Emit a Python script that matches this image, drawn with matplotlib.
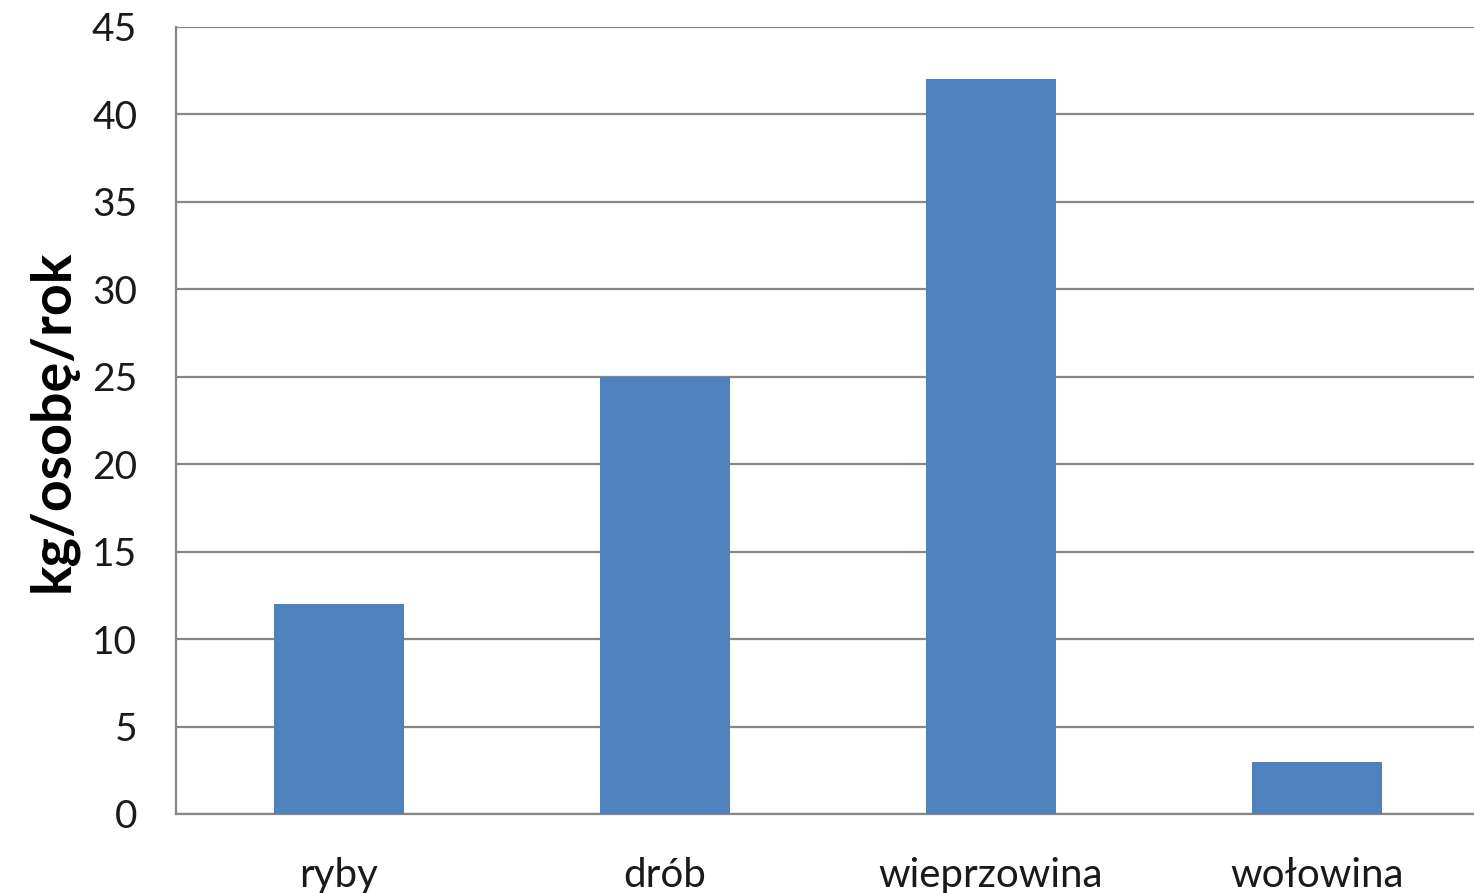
import matplotlib
matplotlib.use("Agg")
import matplotlib.pyplot as plt
import numpy as np

categories = ["ryby", "drób", "wieprzowina", "wołowina"]
values = [12, 25, 42, 3]
yticks = [0, 5, 10, 15, 20, 25, 30, 35, 40, 45]

plt.rcParams['font.family'] = ['Lato', 'DejaVu Sans']

W, H = 1474, 893
fig = plt.figure(figsize=(W / 100, H / 100), dpi=100)
# plot area: x 176..1480 px, y 27..814 px
ax = fig.add_axes([176 / W, 1 - 814 / H, (1480 - 176) / W, (814 - 27) / H])

x = np.arange(len(categories))
ax.bar(x, values, width=0.4, color='#4F81BD', zorder=3)

ax.set_xlim(-0.5, len(categories) - 0.5)
ax.set_ylim(0, 45)
ax.set_yticks(yticks)
ax.set_xticks(x)
ax.set_xticklabels(categories)

ax.grid(axis='y', color='#868686', linewidth=1.6, zorder=0)
ax.set_axisbelow(True)
for side in ['top', 'right']:
    ax.spines[side].set_visible(False)
for side in ['left', 'bottom']:
    ax.spines[side].set_color('#868686')
    ax.spines[side].set_linewidth(1.6)

ax.tick_params(axis='y', length=0, pad=28, labelsize=28, labelcolor='#1a1a1a')
ax.tick_params(axis='x', length=0, pad=31, labelsize=29, labelcolor='#1a1a1a')

ax.set_ylabel('kg/osobę/rok', fontsize=40, fontweight='bold', labelpad=10)

fig.savefig('out.png', dpi=100)
